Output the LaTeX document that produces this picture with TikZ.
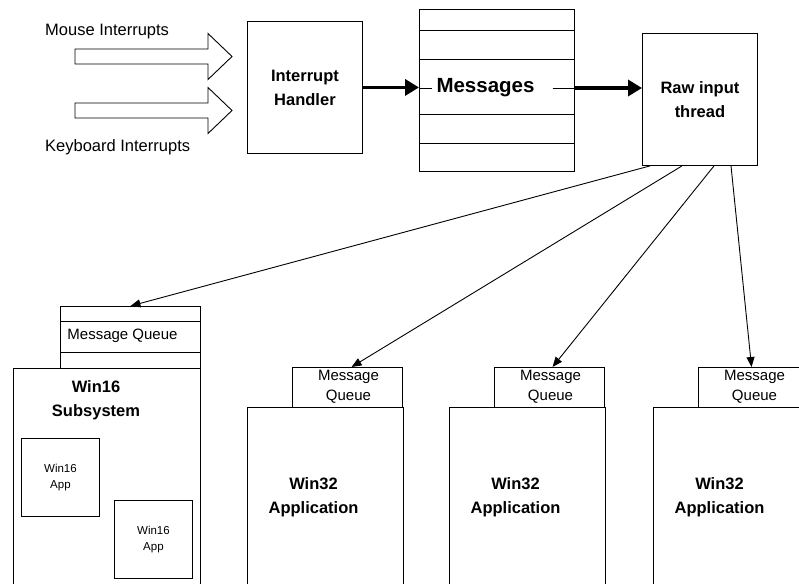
\documentclass[tikz,border=0pt]{standalone}
\usepackage{fontspec}
\setmainfont{Liberation Sans}
\usetikzlibrary{arrows.meta}

\tikzset{
  box/.style={draw, line width=0.9pt, inner sep=0pt, anchor=north west, align=center},
  bigtext/.style={font=\fontsize{16.5}{24}\selectfont\bfseries, align=center, inner sep=0pt},
  plaintext/.style={font=\fontsize{16.5}{20}\selectfont, inner sep=0pt},
  qtext/.style={font=\fontsize{15}{20}\selectfont, align=center, inner sep=0pt},
  apptext/.style={font=\fontsize{11.5}{16}\selectfont},
  fatarrow/.style={line width=3.5pt, -{Triangle[length=14pt,width=16pt]}},
  thinarrow/.style={line width=0.9pt, -{Triangle[length=10pt,width=8pt]}},
  blockarrow/.style={draw, line width=0.9pt, fill=white},
}

\begin{document}
\begin{tikzpicture}[x=1pt,y=-1pt]
    \clip (0,0) rectangle (799,583);

    %interrupts coming in
    \node[plaintext, anchor=base west] (mouse) at (45,36) {Mouse Interrupts};
    \node[plaintext, anchor=base west] (keyb) at (45,151) {Keyboard Interrupts};
    \foreach \y in {56.5,110.5}
    {
        \draw[blockarrow] (75,\y-7.5) -- (208,\y-7.5) -- (208,\y-23) -- (232,\y)
            -- (208,\y+23) -- (208,\y+7.5) -- (75,\y+7.5) -- cycle;
    }

    %handler, message buffer, raw input thread
    \node[box, bigtext, minimum width=115, minimum height=132] (handler) at (247,21) {Interrupt\\Handler};
    \node[box, minimum width=155, minimum height=162] (msgs) at (419,9) {};
    \foreach \y in {30,59,114,143}
    {
        \draw[line width=0.9pt] (419,\y) -- (574,\y);
    }
    \node[bigtext, font=\fontsize{20.5}{24}\selectfont\bfseries] (msgtext) at (485.5,88) {Messages};
    \node[box, bigtext, minimum width=115, minimum height=132] (raw) at (642,33) {Raw input\\thread};

    \draw[fatarrow] (handler.east) -- (handler.east -| msgs.west);
    \draw[line width=0.9pt] (msgs.west |- msgtext.west) -- ([xshift=-4pt]msgtext.west);
    \draw[line width=0.9pt] ([xshift=18pt]msgtext.east) -- (msgs.east |- msgtext.east);
    \draw[fatarrow] (msgs.east |- msgtext.east) -- (raw.west |- msgtext.east);

    %win16 subsystem
    \node[box, minimum width=140, minimum height=62] (mq16) at (60,306) {};
    \draw[line width=0.9pt] (60,321) -- (200,321);
    \draw[line width=0.9pt] (60,352) -- (200,352);
    \node[qtext] (mq16text) at (122.5,336) {Message Queue};
    \node[box, minimum width=187, minimum height=230] (win16) at (13,368) {};
    \node[bigtext] (win16text) at (96,400) {Win16\\Subsystem};
    \node[box, apptext, minimum width=78, minimum height=78] (app16a) at (21,438) {Win16\\App};
    \node[box, apptext, minimum width=78, minimum height=78] (app16b) at (114,500) {Win16\\App};

    %win32 applications
    \foreach \x [count=\i] in {247,449,653}
    {
        \node[box, minimum width=156, minimum height=200] (app\i) at (\x,407) {};
        \node[bigtext] (app\i text) at (\x+66.5,497.5) {Win32\\Application};
        \node[box, minimum width=110, minimum height=40, anchor=north east] (q\i) at (\x+156,367) {};
        \node[qtext] (q\i text) at (\x+101.5,387) {Message\\Queue};
    }

    %raw input thread feeds the queues
    \draw[thinarrow] ([xshift=8pt]raw.south west) -- (mq16.north);
    \foreach \s/\t/\d in {40/1/4, 72/2/3, 89/3/-2}
    {
        \draw[thinarrow] ([xshift=\s pt]raw.south west) -- ([xshift=\d pt]q\t.north);
    }
\end{tikzpicture}
\end{document}
